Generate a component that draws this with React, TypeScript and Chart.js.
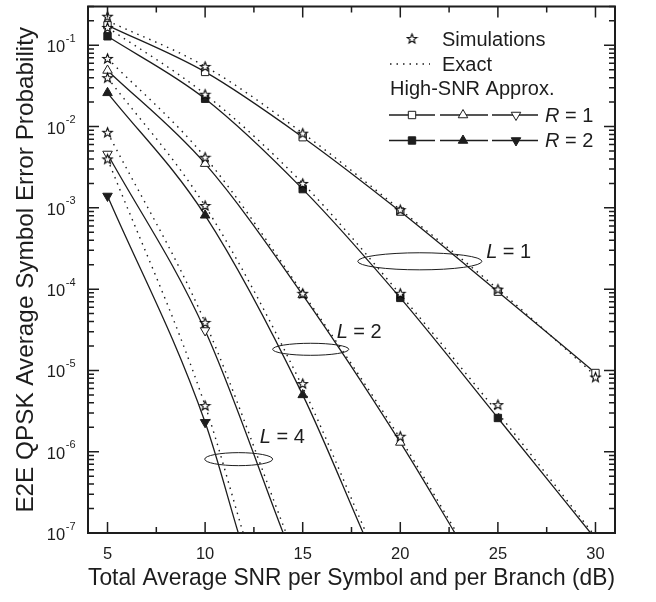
import React, { useEffect, useRef } from 'react';
import { Chart, registerables } from 'chart.js';

Chart.register(...registerables);

const FONT = '"Liberation Sans", Arial, Helvetica, sans-serif';
const INK = '#1d1d1d';

// ---------- data ----------
const snrDb = [5, 10, 15, 20, 25, 30];

// Simulations (stars)
const simL1R1 = [0.228, 0.055, 8.3e-3, 9.5e-4, 1.0e-4, 8.3e-6];
const simL1R2 = [0.166, 0.025, 2.0e-3, 8.9e-5, 3.8e-6, null];
const simL2R1 = [0.069, 4.2e-3, 8.9e-5, 1.55e-6, null, null];
const simL2R2 = [0.04, 1.07e-3, 6.9e-6, null, null, null];
const simL4R1 = [8.5e-3, 3.9e-5, null, null, null, null];
const simL4R2 = [4.0e-3, 3.7e-6, null, null, null, null];

// Exact (dotted)
const exactL1R1 = [0.2, 0.055, 8.3e-3, 9.5e-4, 1.0e-4, 8.6e-6];
const exactL1R2 = [0.166, 0.025, 2.0e-3, 8.6e-5, 3.0e-6, null];
const exactL2R1 = [0.069, 4.2e-3, 9.0e-5, 1.45e-6, null, null];
const exactL2R2 = [0.04, 1.05e-3, 6.2e-6, null, null, null];
const exactL4R1 = [8.5e-3, 3.9e-5, null, null, null, null];
const exactL4R2 = [4.0e-3, 3.7e-6, null, null, null, null];
// SNR (dB) at which each exact curve reaches the 1e-7 floor of the plot
const exactFloorSnr = [null, 29.85, 22.9, 18.25, 14.15, 11.95];

// High-SNR approximation (solid lines with markers)
const apxL1R1 = [0.176, 0.047, 7.4e-3, 9.0e-4, 9.3e-5, 9.3e-6];
const apxL1R2 = [0.129, 0.022, 1.7e-3, 7.8e-5, 2.6e-6, null];
const apxL2R1 = [0.049, 3.5e-3, 8.5e-5, 1.3e-6, null, null];
const apxL2R2 = [0.026, 8.1e-4, 5.0e-6, null, null, null];
const apxL4R1 = [4.6e-3, 3.1e-5, null, null, null, null];
const apxL4R2 = [1.4e-3, 2.3e-6, null, null, null, null];
// SNR (dB) at which each approximation curve reaches the 1e-7 floor
const apxFloorSnr = [null, 29.75, 22.8, 18.1, 14.0, 11.7];

const xMajorTicks = [5, 10, 15, 20, 25, 30];
const xMinorTicks = [7.5, 12.5, 17.5, 22.5, 27.5];
const yDecades = [-7, -6, -5, -4, -3, -2, -1];
const X_MIN = 4;
const X_MAX = 31;
const Y_MIN = 1e-7;
const Y_MAX = 0.3;

const xTitle = 'Total Average SNR per Symbol and per Branch (dB)';
const yTitle = 'E2E QPSK Average Symbol Error Probability';

const legendSim = 'Simulations';
const legendExact = 'Exact';
const legendApx = 'High-SNR Approx.';
const legendR = ['1', '2'];

// diversity-group annotations (ellipse + "L = n" label), in data coordinates
const groupL = ['1', '2', '4'];
const groupEllipseSnr = [21.0, 15.41, 11.72];
const groupEllipseSep = [2.2e-4, 1.82e-5, 8.1e-7];
const groupEllipseHalfDb = [3.18, 1.95, 1.74];
const groupEllipseHalfDecades = [0.105, 0.074, 0.08];
const groupLabelSnr = [24.4, 16.74, 12.8];
const groupLabelSep = [2.84e-4, 2.9e-5, 1.48e-6];

// ---------- helpers ----------
function makeStar(): HTMLCanvasElement {
  const c = document.createElement('canvas');
  c.width = 13;
  c.height = 13;
  const g = c.getContext('2d')!;
  g.beginPath();
  for (let k = 0; k < 10; k++) {
    const r = k % 2 === 0 ? 5.0 : 2.1;
    const a = -Math.PI / 2 + (k * Math.PI) / 5;
    const px = 6.5 + r * Math.cos(a);
    const py = 7.0 + r * Math.sin(a);
    if (k === 0) g.moveTo(px, py);
    else g.lineTo(px, py);
  }
  g.closePath();
  g.fillStyle = '#fff';
  g.fill();
  g.strokeStyle = '#000';
  g.lineWidth = 1.1;
  g.lineJoin = 'miter';
  g.stroke();
  return c;
}

function drawMarker(ctx: CanvasRenderingContext2D, kind: string, x: number, y: number, filled: boolean) {
  ctx.save();
  ctx.beginPath();
  if (kind === 'rect') {
    const s = 3.7;
    ctx.rect(x - s, y - s, 2 * s, 2 * s);
  } else {
    const r = 5.5;
    const d = kind === 'up' ? 1 : -1;
    ctx.moveTo(x, y - d * r);
    ctx.lineTo(x + r * 0.866, y + (d * r) / 2);
    ctx.lineTo(x - r * 0.866, y + (d * r) / 2);
    ctx.closePath();
  }
  ctx.fillStyle = filled ? INK : '#fff';
  ctx.fill();
  ctx.lineWidth = 1;
  ctx.strokeStyle = INK;
  ctx.stroke();
  ctx.restore();
}

function toPoints(vals: (number | null)[], floorSnr: number | null) {
  const p: any[] = [];
  snrDb.forEach((x, i) => {
    const v = vals[i];
    if (v != null) p.push({ x, y: v });
  });
  if (floorSnr != null) p.push({ x: floorSnr, y: Y_MIN, tail: true });
  return p;
}

function makeDecorPlugin(star: HTMLCanvasElement) {
  return {
    id: 'decor',
    afterDraw(chart: any) {
      const ctx: CanvasRenderingContext2D = chart.ctx;
      const { left, right, top, bottom } = chart.chartArea;
      const xs = chart.scales.x;
      const ys = chart.scales.y;
      ctx.save();
      ctx.strokeStyle = INK;
      ctx.fillStyle = INK;

      // inward ticks
      ctx.lineWidth = 1.5;
      const MAJ = 11;
      const MIN = 6;
      const vtick = (v: number, len: number) => {
        const px = xs.getPixelForValue(v);
        ctx.beginPath();
        ctx.moveTo(px, bottom);
        ctx.lineTo(px, bottom - len);
        ctx.moveTo(px, top);
        ctx.lineTo(px, top + len);
        ctx.stroke();
      };
      xMajorTicks.forEach((v) => vtick(v, MAJ));
      xMinorTicks.forEach((v) => vtick(v, MIN));
      const htick = (v: number, len: number) => {
        const py = ys.getPixelForValue(v);
        ctx.beginPath();
        ctx.moveTo(left, py);
        ctx.lineTo(left + len, py);
        ctx.moveTo(right, py);
        ctx.lineTo(right - len, py);
        ctx.stroke();
      };
      yDecades.forEach((n) => {
        htick(Math.pow(10, n), MAJ);
        for (let k = 2; k <= 9; k++) {
          const v = k * Math.pow(10, n);
          if (v <= Y_MAX * 1.0001) htick(v, MIN);
        }
      });

      // frame
      ctx.lineWidth = 2;
      ctx.strokeRect(left, top, right - left, bottom - top);

      // y tick labels 10^n
      yDecades.forEach((n) => {
        const py = ys.getPixelForValue(Math.pow(10, n));
        const exp = '-' + String(-n);
        ctx.font = `11px ${FONT}`;
        ctx.textAlign = 'right';
        ctx.textBaseline = 'alphabetic';
        const ew = ctx.measureText(exp).width;
        const xr = left - 12.5;
        ctx.fillText(exp, xr, py - 3.5);
        ctx.font = `16.5px ${FONT}`;
        ctx.fillText('10', xr - ew - 0.5, py + 7);
      });

      // group annotations
      ctx.lineWidth = 1;
      groupL.forEach((lab, i) => {
        const cx = xs.getPixelForValue(groupEllipseSnr[i]);
        const cy = ys.getPixelForValue(groupEllipseSep[i]);
        const rx = xs.getPixelForValue(groupEllipseSnr[i] + groupEllipseHalfDb[i]) - cx;
        const ry = cy - ys.getPixelForValue(groupEllipseSep[i] * Math.pow(10, groupEllipseHalfDecades[i]));
        ctx.beginPath();
        ctx.ellipse(cx, cy, rx, ry, 0, 0, Math.PI * 2);
        ctx.stroke();
        const tx = xs.getPixelForValue(groupLabelSnr[i]);
        const ty = ys.getPixelForValue(groupLabelSep[i]);
        ctx.textAlign = 'left';
        ctx.textBaseline = 'middle';
        ctx.font = `italic 20px ${FONT}`;
        ctx.fillText('L', tx, ty);
        const lw = ctx.measureText('L').width;
        ctx.font = `20px ${FONT}`;
        ctx.fillText(' = ' + lab, tx + lw, ty);
      });

      // legend
      ctx.textAlign = 'left';
      ctx.textBaseline = 'middle';
      ctx.font = `20px ${FONT}`;
      ctx.drawImage(star, 412 - 6.5, 39 - 7);
      ctx.fillText(legendSim, 442, 40);
      ctx.save();
      ctx.lineWidth = 1.3;
      ctx.setLineDash([1.5, 5]);
      ctx.beginPath();
      ctx.moveTo(390, 64);
      ctx.lineTo(430, 64);
      ctx.stroke();
      ctx.restore();
      ctx.fillText(legendExact, 442, 65);
      ctx.fillText(legendApx, 390, 89);
      const kinds = ['rect', 'up', 'down'];
      const segs = [
        [389, 435, 412],
        [440, 488, 463],
        [492, 538, 516],
      ];
      legendR.forEach((r, ri) => {
        const y = 115 + ri * 25.5;
        ctx.lineWidth = 1.3;
        segs.forEach((s, si) => {
          ctx.beginPath();
          ctx.moveTo(s[0], y);
          ctx.lineTo(s[1], y);
          ctx.stroke();
          drawMarker(ctx, kinds[si], s[2], y, ri === 1);
        });
        ctx.font = `italic 20px ${FONT}`;
        ctx.fillText('R', 545, y + 1);
        const rw = ctx.measureText('R').width;
        ctx.font = `20px ${FONT}`;
        ctx.fillText(' = ' + r, 545 + rw, y + 1);
      });
      ctx.restore();
    },
  };
}

export default function App() {
  const ref = useRef<HTMLCanvasElement>(null);
  useEffect(() => {
    if (!ref.current) return;
    Chart.defaults.font.family = FONT;
    const star = makeStar();

    const sims = [simL1R1, simL1R2, simL2R1, simL2R2, simL4R1, simL4R2];
    const exacts = [exactL1R1, exactL1R2, exactL2R1, exactL2R2, exactL4R1, exactL4R2];
    const apxs = [apxL1R1, apxL1R2, apxL2R1, apxL2R2, apxL4R1, apxL4R2];
    const styles = ['rect', 'rect', 'triangle', 'triangle', 'triangle', 'triangle'];
    const rots = [0, 0, 0, 0, 180, 180];
    const radii = [5.2, 5.2, 5.5, 5.5, 5.5, 5.5];
    const filled = [false, true, false, true, false, true];

    const datasets: any[] = [];
    sims.forEach((s, i) => {
      datasets.push({
        label: 'sim' + i,
        data: toPoints(s, null),
        showLine: false,
        pointStyle: star,
        pointRadius: 5,
      });
    });
    apxs.forEach((a, i) => {
      datasets.push({
        label: 'apx' + i,
        data: toPoints(a, apxFloorSnr[i]),
        borderColor: INK,
        borderWidth: 1.3,
        cubicInterpolationMode: 'monotone',
        pointStyle: styles[i],
        pointRotation: rots[i],
        pointRadius: (c: any) => (c.raw && c.raw.tail ? 0 : radii[i]),
        pointBackgroundColor: filled[i] ? INK : '#fff',
        pointBorderColor: INK,
        pointBorderWidth: 1,
      });
    });
    exacts.forEach((e, i) => {
      datasets.push({
        label: 'exact' + i,
        data: toPoints(e, exactFloorSnr[i]),
        borderColor: INK,
        borderWidth: 1.4,
        borderDash: [1.5, 5],
        cubicInterpolationMode: 'monotone',
        pointRadius: 0,
      });
    });

    const chart = new Chart(ref.current, {
      type: 'line',
      data: { datasets },
      options: {
        responsive: false,
        animation: false,
        devicePixelRatio: 1,
        layout: { padding: { left: 0, right: 41, top: 6, bottom: 0 } },
        plugins: { legend: { display: false }, tooltip: { enabled: false } },
        scales: {
          x: {
            type: 'linear',
            min: X_MIN,
            max: X_MAX,
            afterBuildTicks: (s: any) => {
              s.ticks = xMajorTicks.map((v) => ({ value: v }));
            },
            afterFit: (s: any) => {
              s.height = 69;
            },
            grid: { display: false, drawTicks: false },
            border: { display: false },
            ticks: {
              color: INK,
              font: { size: 16.5, family: FONT },
              padding: 12,
              maxRotation: 0,
              autoSkip: false,
            },
            title: {
              display: true,
              text: xTitle,
              color: INK,
              font: { size: 24.5, family: FONT },
              padding: { top: 0, bottom: 9 },
            },
          },
          y: {
            type: 'logarithmic',
            min: Y_MIN,
            max: Y_MAX,
            afterFit: (s: any) => {
              s.width = 88;
            },
            grid: { display: false, drawTicks: false },
            border: { display: false },
            ticks: { display: false },
            title: {
              display: true,
              text: yTitle,
              color: INK,
              font: { size: 24.3, family: FONT },
              padding: { top: 12, bottom: 0 },
            },
          },
        },
      },
      plugins: [makeDecorPlugin(star)],
    } as any);
    return () => chart.destroy();
  }, []);

  return (
    <div style={{ position: 'absolute', left: 0, top: 0, width: 656, height: 602, background: '#fff' }}>
      <canvas ref={ref} width={656} height={602} style={{ display: 'block' }} />
    </div>
  );
}
